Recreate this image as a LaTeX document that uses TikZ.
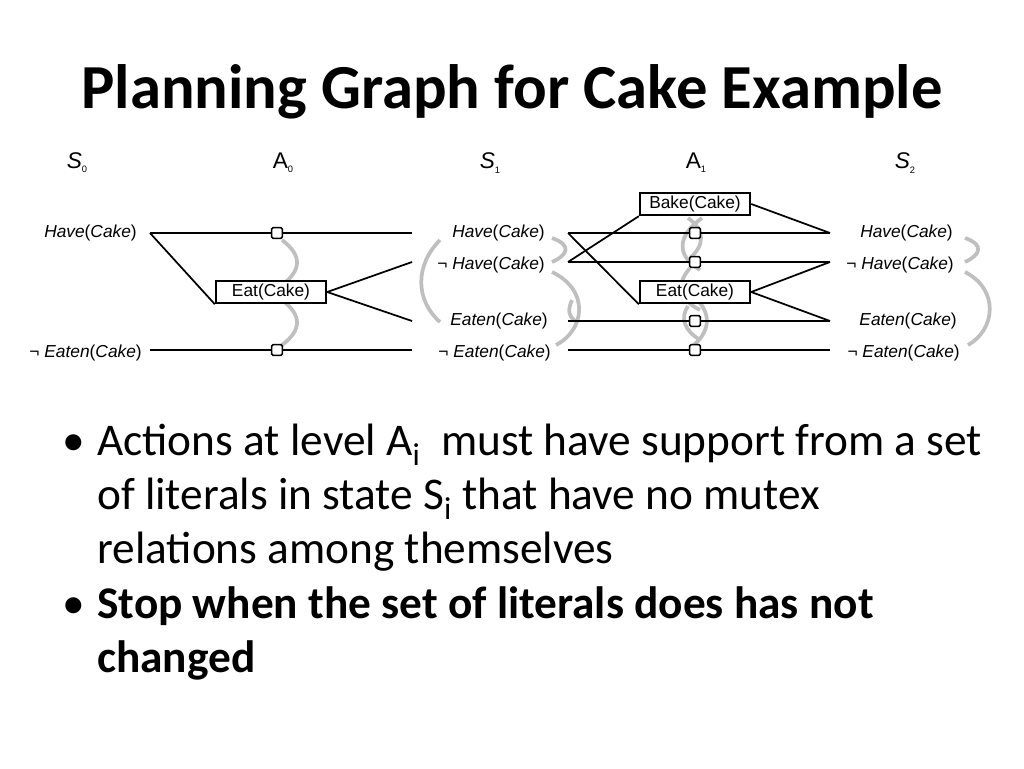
\documentclass[tikz,border=0pt]{standalone}
\usepackage{fontspec}
\setmainfont{Carlito}
\newfontfamily\hel{Liberation Sans}
\newcommand{\sbs}[1]{\raisebox{-0.35ex}{\scriptsize #1}}
\begin{document}
\begin{tikzpicture}[x=0.75pt,y=-0.75pt,
  lit/.style={font=\hel\fontsize{13}{15}\selectfont,inner sep=0pt},
  lvl/.style={font=\hel\fontsize{17}{19}\selectfont,inner sep=0pt},
  act/.style={draw,line width=1.3pt,font=\hel\fontsize{13}{15}\selectfont,minimum width=83pt,minimum height=17pt,inner sep=1pt,fill=white},
  sq/.style={draw,line width=1.2pt,fill=white,minimum size=8pt,inner sep=0pt,rounded corners=1pt},
  edge/.style={line width=1.3pt},
  mx/.style={draw=gray!50,line width=2.8pt},
  bul/.style={font=\fontsize{34}{40}\selectfont,anchor=base west,inner sep=0pt}]
\useasboundingbox (0,0) rectangle (1024,768);
\node[font=\bfseries\fontsize{47}{54}\selectfont] (title) at (512,92) {Planning Graph for Cake Example};
% level labels
\node[lvl] (s0) at (77,163) {\textit{S}\sbs{0}};
\node[lvl] (a0) at (283,163) {A\sbs{0}};
\node[lvl] (s1) at (490,163) {\textit{S}\sbs{1}};
\node[lvl] (a1) at (696,163) {A\sbs{1}};
\node[lvl] (s2) at (905,163) {\textit{S}\sbs{2}};
% S0
\node[lit,anchor=east] (h0) at (137,233) {\textit{Have}(\textit{Cake})};
\node[lit,anchor=east] (ne0) at (142,353) {¬\ \textit{Eaten}(\textit{Cake})};
% S1
\node[lit,anchor=east] (h1) at (545,233) {\textit{Have}(\textit{Cake})};
\node[lit,anchor=east] (nh1) at (545,265) {¬\ \textit{Have}(\textit{Cake})};
\node[lit,anchor=east] (e1) at (548,321) {\textit{Eaten}(\textit{Cake})};
\node[lit,anchor=east] (ne1) at (551,353) {¬\ \textit{Eaten}(\textit{Cake})};
% S2
\node[lit,anchor=east] (h2) at (953,233) {\textit{Have}(\textit{Cake})};
\node[lit,anchor=east] (nh2) at (954,265) {¬\ \textit{Have}(\textit{Cake})};
\node[lit,anchor=east] (e2) at (957,321) {\textit{Eaten}(\textit{Cake})};
\node[lit,anchor=east] (ne2) at (960,353) {¬\ \textit{Eaten}(\textit{Cake})};
% coordinates for line ends
\coordinate (L0h) at (150,233); \coordinate (L0e) at (150,350);
\coordinate (R0h) at (412,233); \coordinate (R0nh) at (412,262);
\coordinate (R0e) at (412,321); \coordinate (R0ne) at (412,350);
\coordinate (L1h) at (568,233); \coordinate (L1nh) at (568,262);
\coordinate (L1e) at (568,321); \coordinate (L1ne) at (568,350);
\coordinate (R1h) at (830,233); \coordinate (R1nh) at (830,262);
\coordinate (R1e) at (830,321); \coordinate (R1ne) at (830,350);
% mutex arcs (behind)
\draw[mx] (282,240) .. controls (302,255) and (302,270) .. (282,285);
\draw[mx] (282,300) .. controls (302,315) and (302,330) .. (282,345);
\draw[mx] (440,240) .. controls (415,265) and (415,300) .. (440,322);
\draw[mx] (552,238) .. controls (572,245) and (568,255) .. (552,262);
\draw[mx] (552,272) .. controls (590,290) and (585,330) .. (556,345);
\draw[mx] (577,322) .. controls (565,315) and (570,305) .. (572,300);
\draw[mx] (688,218) .. controls (705,230) and (705,245) .. (690,258);
\draw[mx] (702,218) .. controls (678,235) and (675,255) .. (700,270);
\draw[mx] (690,268) .. controls (675,285) and (680,300) .. (700,310);
\draw[mx] (700,303) .. controls (712,318) and (708,335) .. (690,348);
\draw[mx] (688,306) .. controls (680,318) and (684,330) .. (700,340);
\draw[mx] (965,238) .. controls (985,245) and (980,255) .. (965,262);
\draw[mx] (965,272) .. controls (1000,290) and (995,330) .. (968,345);
% A0 edges
\node[act] (eat0) at (271,292) {Eat(Cake)};
\draw[edge] (L0h) -- (R0h);
\draw[edge] (L0e) -- (R0ne);
\draw[edge] (L0h) -- (eat0.south west);
\draw[edge] (eat0.east) -- (R0nh);
\draw[edge] (eat0.east) -- (R0e);
\node[sq] (p0h) at (277,233) {};
\node[sq] (p0e) at (277,350) {};
% A1
\node[act] (bake1) at (695,204) {Bake(Cake)};
\node[act] (eat1) at (695,292) {Eat(Cake)};
\draw[edge] (L1h) -- (R1h);
\draw[edge] (L1nh) -- (R1nh);
\draw[edge] (L1e) -- (R1e);
\draw[edge] (L1ne) -- (R1ne);
\draw[edge] (L1h) -- (eat1.south west);
\draw[edge] (L1nh) -- (bake1.south west);
\draw[edge] (bake1.east) -- (R1h);
\draw[edge] (eat1.east) -- (R1nh);
\draw[edge] (eat1.east) -- (R1e);
\node[act] at (bake1) {Bake(Cake)};
\node[act] at (eat1) {Eat(Cake)};
\node[sq] (p1h) at (695,233) {};
\node[sq] (p1nh) at (695,262) {};
\node[sq] (p1e) at (695,321) {};
\node[sq] (p1ne) at (695,350) {};
% bullets
\node[bul] (b1) at (62,455) {•};
\node[bul] (t1) at (97,455) {Actions at level A\textsubscript{i}\ \ must have support from a set};
\node[bul] (t2) at (97,509) {of literals in state S\textsubscript{i} that have no mutex};
\node[bul] (t3) at (97,563) {relations among themselves};
\node[bul] (b2) at (62,618) {•};
\node[bul,font=\bfseries\fontsize{34}{40}\selectfont] (t4) at (97,618) {Stop when the set of literals does has not};
\node[bul,font=\bfseries\fontsize{34}{40}\selectfont] (t5) at (97,672) {changed};
\end{tikzpicture}
\end{document}
